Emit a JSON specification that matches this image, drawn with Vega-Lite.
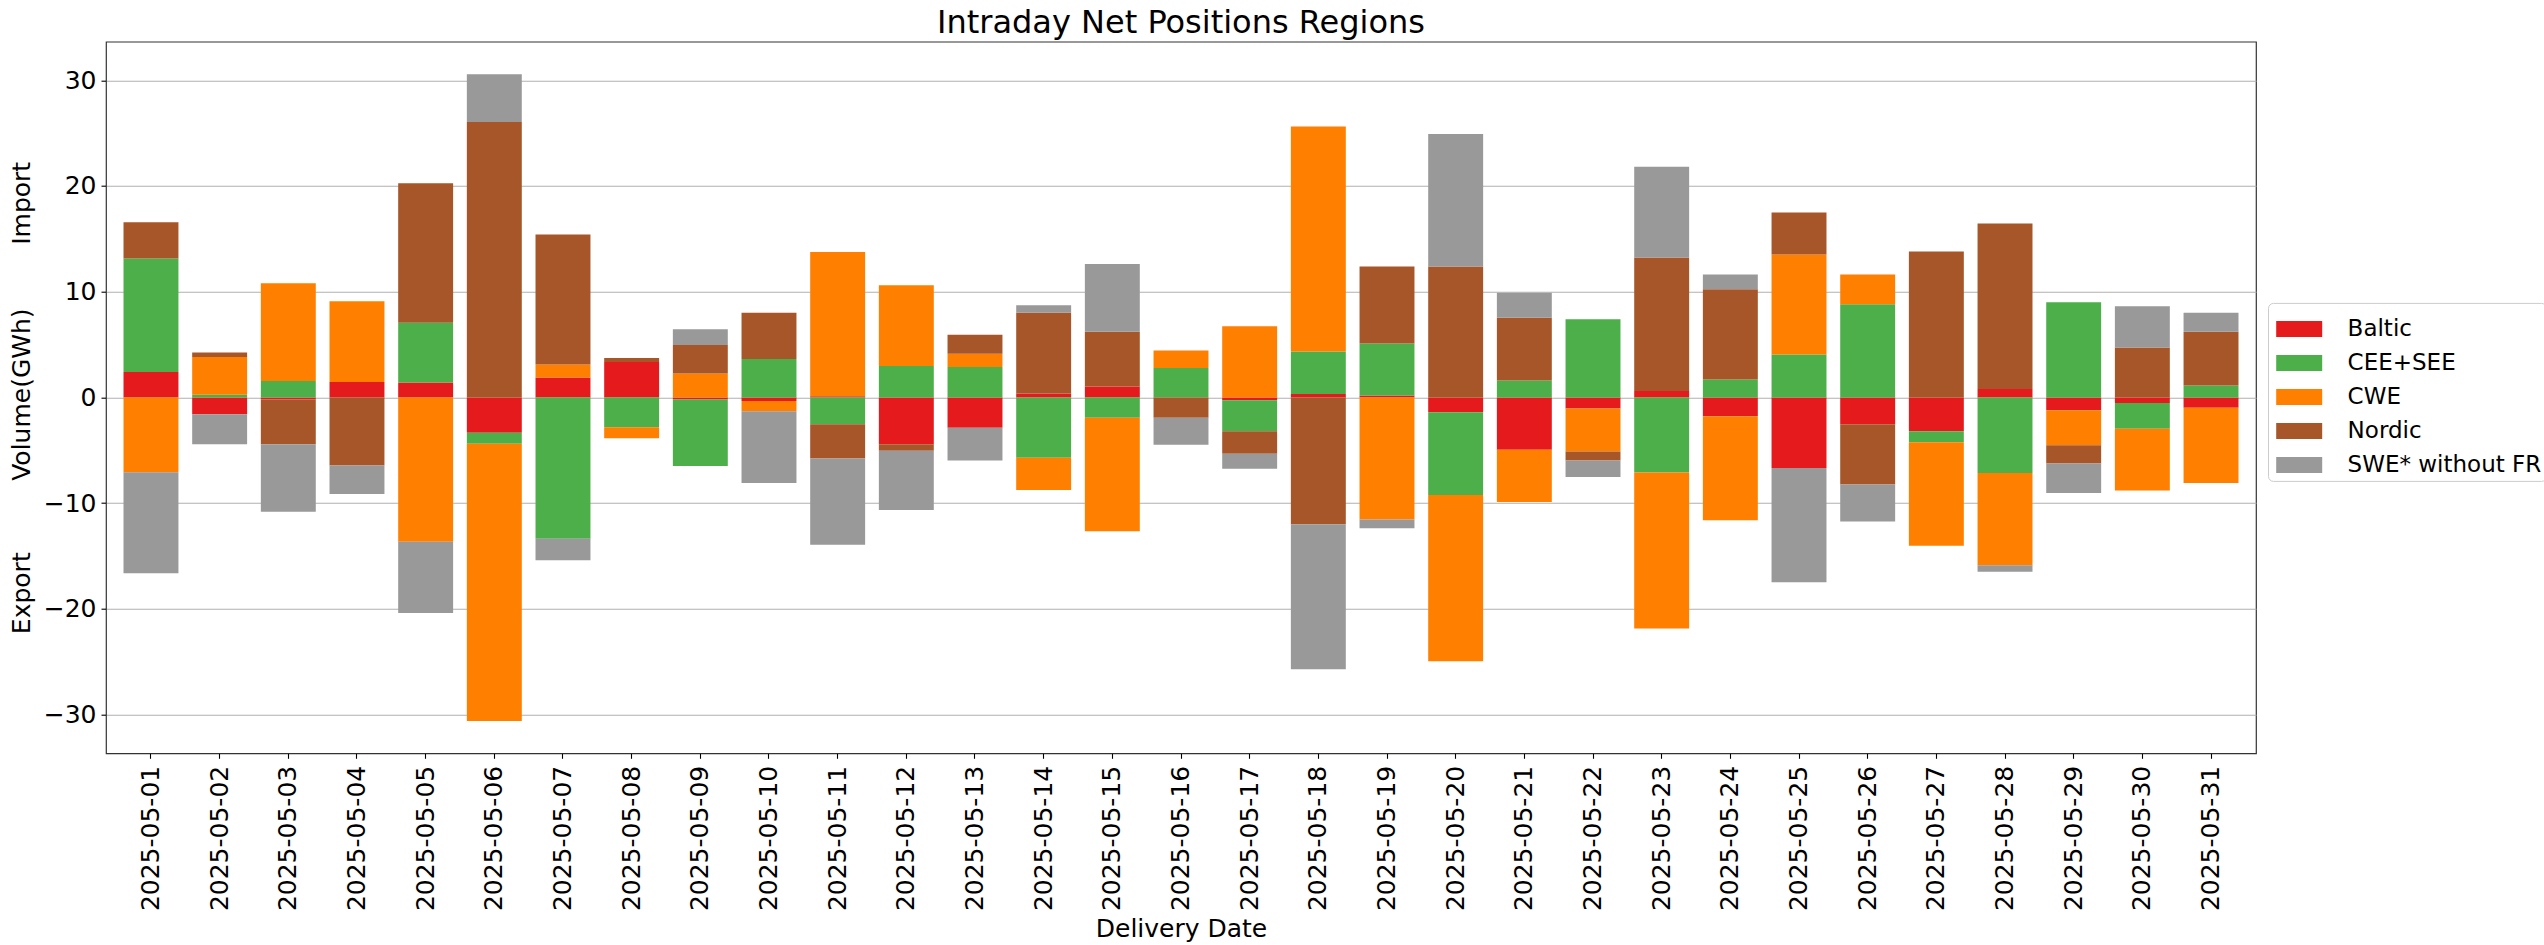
{
  "$schema": "https://vega.github.io/schema/vega-lite/v6.json",
  "autosize": {"type": "none"},
  "width": 2150,
  "height": 711.6,
  "padding": {"left": 106, "top": 41.7, "right": 288, "bottom": 191.7},
  "background": "white",
  "title": {"text": "Intraday Net Positions Regions", "fontSize": 32, "font": "DejaVu Sans", "fontWeight": "normal", "color": "black", "anchor": "middle", "baseline": "bottom", "offset": 8, "dy": 38},
  "datasets": {
    "wide": [
      {"date": "2025-05-01", "Baltic": 2.4, "CEE+SEE": 10.75, "CWE": -7.07, "Nordic": 3.43, "SWE* without FR": -9.56},
      {"date": "2025-05-02", "Baltic": -1.6, "CEE+SEE": 0.24, "CWE": 3.58, "Nordic": 0.42, "SWE* without FR": -2.83},
      {"date": "2025-05-03", "Baltic": -0.2, "CEE+SEE": 1.55, "CWE": 9.24, "Nordic": -4.23, "SWE* without FR": -6.4},
      {"date": "2025-05-04", "Baltic": 1.46, "CEE+SEE": 0, "CWE": 7.63, "Nordic": -6.45, "SWE* without FR": -2.69},
      {"date": "2025-05-05", "Baltic": 1.41, "CEE+SEE": 5.66, "CWE": -13.66, "Nordic": 13.18, "SWE* without FR": -6.74},
      {"date": "2025-05-06", "Baltic": -3.34, "CEE+SEE": -1.04, "CWE": -26.24, "Nordic": 26.05, "SWE* without FR": 4.52},
      {"date": "2025-05-07", "Baltic": 1.88, "CEE+SEE": -13.38, "CWE": 1.23, "Nordic": 12.29, "SWE* without FR": -2.02},
      {"date": "2025-05-08", "Baltic": 3.34, "CEE+SEE": -2.83, "CWE": -1.03, "Nordic": 0.38, "SWE* without FR": 0},
      {"date": "2025-05-09", "Baltic": -0.2, "CEE+SEE": -6.3, "CWE": 2.26, "Nordic": 2.69, "SWE* without FR": 1.5},
      {"date": "2025-05-10", "Baltic": -0.33, "CEE+SEE": 3.63, "CWE": -0.99, "Nordic": 4.38, "SWE* without FR": -6.78},
      {"date": "2025-05-11", "Baltic": 0.1, "CEE+SEE": -2.54, "CWE": 13.65, "Nordic": -3.25, "SWE* without FR": -8.15},
      {"date": "2025-05-12", "Baltic": -4.43, "CEE+SEE": 2.97, "CWE": 7.63, "Nordic": -0.61, "SWE* without FR": -5.61},
      {"date": "2025-05-13", "Baltic": -2.87, "CEE+SEE": 2.87, "CWE": 1.27, "Nordic": 1.79, "SWE* without FR": -3.11},
      {"date": "2025-05-14", "Baltic": 0.38, "CEE+SEE": -5.7, "CWE": -3.06, "Nordic": 7.63, "SWE* without FR": 0.71},
      {"date": "2025-05-15", "Baltic": 1.04, "CEE+SEE": -1.93, "CWE": -10.74, "Nordic": 5.18, "SWE* without FR": 6.41},
      {"date": "2025-05-16", "Baltic": 0, "CEE+SEE": 2.78, "CWE": 1.65, "Nordic": -1.93, "SWE* without FR": -2.54},
      {"date": "2025-05-17", "Baltic": -0.28, "CEE+SEE": -2.92, "CWE": 6.74, "Nordic": -2.12, "SWE* without FR": -1.42},
      {"date": "2025-05-18", "Baltic": 0.33, "CEE+SEE": 4.0, "CWE": 21.29, "Nordic": -12.01, "SWE* without FR": -13.71},
      {"date": "2025-05-19", "Baltic": 0.19, "CEE+SEE": 4.9, "CWE": -11.54, "Nordic": 7.3, "SWE* without FR": -0.85},
      {"date": "2025-05-20", "Baltic": -1.41, "CEE+SEE": -7.82, "CWE": -15.73, "Nordic": 12.39, "SWE* without FR": 12.53},
      {"date": "2025-05-21", "Baltic": -4.95, "CEE+SEE": 1.6, "CWE": -4.94, "Nordic": 5.94, "SWE* without FR": 2.35},
      {"date": "2025-05-22", "Baltic": -1.04, "CEE+SEE": 7.4, "CWE": -4.09, "Nordic": -0.85, "SWE* without FR": -1.56},
      {"date": "2025-05-23", "Baltic": 0.61, "CEE+SEE": -7.11, "CWE": -14.75, "Nordic": 12.63, "SWE* without FR": 8.57},
      {"date": "2025-05-24", "Baltic": -1.79, "CEE+SEE": 1.7, "CWE": -9.84, "Nordic": 8.52, "SWE* without FR": 1.41},
      {"date": "2025-05-25", "Baltic": -6.69, "CEE+SEE": 4.05, "CWE": 9.47, "Nordic": 3.96, "SWE* without FR": -10.79},
      {"date": "2025-05-26", "Baltic": -2.54, "CEE+SEE": 8.81, "CWE": 2.82, "Nordic": -5.7, "SWE* without FR": -3.49},
      {"date": "2025-05-27", "Baltic": -3.2, "CEE+SEE": -1.04, "CWE": -9.8, "Nordic": 13.8, "SWE* without FR": 0},
      {"date": "2025-05-28", "Baltic": 0.8, "CEE+SEE": -7.16, "CWE": -8.71, "Nordic": 15.64, "SWE* without FR": -0.62},
      {"date": "2025-05-29", "Baltic": -1.22, "CEE+SEE": 9.0, "CWE": -3.3, "Nordic": -1.74, "SWE* without FR": -2.78},
      {"date": "2025-05-30", "Baltic": -0.52, "CEE+SEE": -2.45, "CWE": -5.84, "Nordic": 4.71, "SWE* without FR": 3.91},
      {"date": "2025-05-31", "Baltic": -0.99, "CEE+SEE": 1.13, "CWE": -7.11, "Nordic": 5.09, "SWE* without FR": 1.79}
    ]
  },
  "data": {"name": "wide"},
  "transform": [
    {"fold": ["Baltic", "CEE+SEE", "CWE", "Nordic", "SWE* without FR"], "as": ["region", "value"]}
  ],
  "mark": {"type": "bar"},
  "encoding": {
    "x": {
      "field": "date", "type": "ordinal",
      "scale": {"paddingInner": 0.2, "paddingOuter": 0.255},
      "axis": {
        "title": "Delivery Date", "labelAngle": -90, "labelFontSize": 25, "labelFont": "DejaVu Sans", "labelColor": "black",
        "tickSize": 5, "tickColor": "black", "tickWidth": 1.1, "labelPadding": 7, "domain": false, "grid": false,
        "titleFontSize": 25, "titleFont": "DejaVu Sans", "titleFontWeight": "normal", "titleColor": "black", "titlePadding": 6,
        "bandPosition": 0.5, "labelOverlap": false
      }
    },
    "y": {
      "field": "value", "type": "quantitative", "stack": "zero",
      "scale": {"domain": [-33.67, 33.65], "nice": false, "zero": false},
      "axis": {
        "title": "Export\u00a0\u00a0\u00a0\u00a0\u00a0\u00a0\u00a0\u00a0\u00a0Volume(GWh)\u00a0\u00a0\u00a0\u00a0\u00a0\u00a0\u00a0\u00a0Import",
        "values": [-30, -20, -10, 0, 10, 20, 30], "format": "d",
        "labelFontSize": 25, "labelFont": "DejaVu Sans", "labelColor": "black",
        "tickSize": 5, "tickColor": "black", "tickWidth": 1.1, "labelPadding": 5, "domain": false,
        "grid": true, "gridColor": "#b0b0b0", "gridWidth": 1.1,
        "titleFontSize": 25, "titleFont": "DejaVu Sans", "titleFontWeight": "normal", "titleColor": "black", "titlePadding": 9
      }
    },
    "color": {
      "field": "region", "type": "nominal",
      "scale": {"domain": ["Baltic", "CEE+SEE", "CWE", "Nordic", "SWE* without FR"], "range": ["#e41a1c", "#4daf4a", "#ff7f00", "#a65628", "#999999"]},
      "legend": {
        "title": null, "orient": "none", "legendX": 2162, "legendY": 261.2,
        "labelFontSize": 23, "labelFont": "DejaVu Sans", "labelColor": "black", "labelLimit": 400,
        "symbolType": "M-1.055,-0.367H1.055V0.367H-1.055Z", "symbolSize": 1901, "symbolStrokeWidth": 0, "symbolOpacity": 1,
        "symbolOffset": 5.2, "labelOffset": 26.4, "rowPadding": 0, "padding": 4,
        "strokeColor": "#cccccc", "fillColor": "white", "cornerRadius": 5
      }
    },
    "order": {"field": "region", "type": "ordinal", "sort": "ascending"}
  },
  "config": {
    "view": {"stroke": "#333333", "strokeWidth": 1.2},
    "font": "DejaVu Sans"
  }
}
